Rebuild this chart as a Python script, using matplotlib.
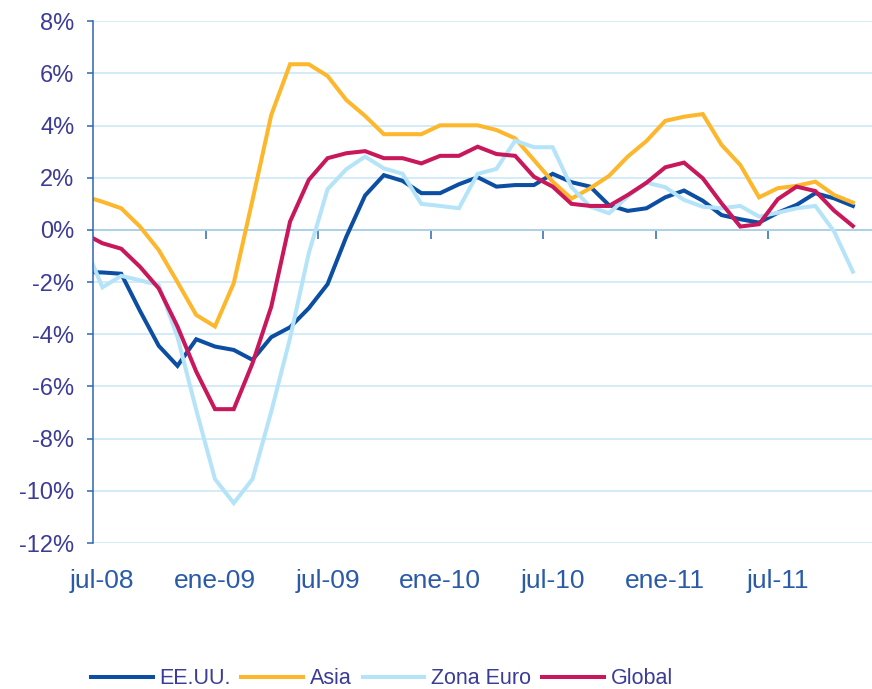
import numpy as np
import matplotlib
matplotlib.use("Agg")
import matplotlib.pyplot as plt
from matplotlib import font_manager
from matplotlib.ticker import FuncFormatter

# monthly series, jun-08 .. nov-11 (jun-08 only shows as the clipped start at the axis)
months = ["jun-08", "jul-08", "ago-08", "sep-08", "oct-08", "nov-08", "dic-08",
          "ene-09", "feb-09", "mar-09", "abr-09", "may-09", "jun-09",
          "jul-09", "ago-09", "sep-09", "oct-09", "nov-09", "dic-09",
          "ene-10", "feb-10", "mar-10", "abr-10", "may-10", "jun-10",
          "jul-10", "ago-10", "sep-10", "oct-10", "nov-10", "dic-10",
          "ene-11", "feb-11", "mar-11", "abr-11", "may-11", "jun-11",
          "jul-11", "ago-11", "sep-11", "oct-11", "nov-11"]

eeuu = [-1.61, -1.63, -1.68, -3.10, -4.44, -5.21, -4.19, -4.47, -4.60, -4.98,
        -4.11, -3.73, -3.00, -2.08, -0.26, 1.32, 2.10, 1.88, 1.41, 1.41,
        1.75, 2.02, 1.66, 1.72, 1.72, 2.15, 1.83, 1.66, 0.95, 0.73,
        0.83, 1.25, 1.51, 1.12, 0.57, 0.41, 0.28, 0.66, 0.96, 1.41,
        1.21, 0.92]
asia = [1.30, 1.08, 0.83, 0.13, -0.77, -2.00, -3.26, -3.70, -2.04, 1.15,
        4.41, 6.35, 6.35, 5.90, 4.98, 4.37, 3.67, 3.67, 3.67, 4.01,
        4.01, 4.01, 3.83, 3.51, 2.68, 1.85, 1.20, 1.60, 2.07, 2.81,
        3.41, 4.18, 4.34, 4.44, 3.26, 2.49, 1.25, 1.60, 1.69, 1.85,
        1.34, 1.05]
zona_euro = [-0.48, -2.20, -1.76, -1.93, -2.11, -4.10, -6.90, -9.55, -10.47, -9.55,
             -6.96, -4.15, -0.89, 1.56, 2.33, 2.81, 2.36, 2.15, 1.00, 0.92,
             0.83, 2.15, 2.34, 3.42, 3.17, 3.17, 1.64, 0.89, 0.64, 1.28,
             1.81, 1.64, 1.15, 0.89, 0.83, 0.92, 0.51, 0.66, 0.83, 0.92,
             -0.06, -1.60]
glob = [-0.13, -0.51, -0.72, -1.41, -2.24, -3.70, -5.43, -6.87, -6.87, -5.11,
        -2.94, 0.32, 1.92, 2.75, 2.94, 3.02, 2.75, 2.75, 2.55, 2.84,
        2.84, 3.19, 2.91, 2.84, 2.04, 1.66, 1.00, 0.92, 0.92, 1.34,
        1.81, 2.40, 2.58, 1.98, 1.02, 0.13, 0.22, 1.18, 1.66, 1.49,
        0.74, 0.15]

series = [("EE.UU.", eeuu, "#0b4ea2"),
          ("Asia", asia, "#fdb72c"),
          ("Zona Euro", zona_euro, "#b5e4f8"),
          ("Global", glob, "#c8175a")]

plt.rcParams["font.family"] = ["Liberation Sans", "DejaVu Sans"]
names = {f.name for f in font_manager.fontManager.ttflist}
leg_family = "Liberation Sans Narrow" if "Liberation Sans Narrow" in names else "Liberation Sans"
leg_size = 17 if leg_family.endswith("Narrow") else 15.5

axis_col = "#2f66b0"
grid_col = "#c6e7f5"

fig = plt.figure(figsize=(8.72, 6.89), dpi=100)
ax = fig.add_axes([0.1067, 0.2119, 0.8933, 0.7573])

x = np.arange(len(months))
for name, vals, col in series:
    ax.plot(x, vals, color=col, lw=2.9, label=name, solid_joinstyle="miter")

ax.set_xlim(0.5, 42.02)
ax.set_ylim(-12, 8)
ax.set_yticks(np.arange(-12, 9, 2))
ax.yaxis.set_major_formatter(FuncFormatter(lambda v, p: "%d%%" % v))
ax.grid(axis="y", color=grid_col, lw=1.1)
ax.set_axisbelow(True)

ax.set_xticks(x[1::6])
ax.set_xticklabels(months[1::6])
ax.tick_params(axis="x", length=0, pad=19, labelsize=19, labelcolor="#2a5aa8")
ax.tick_params(axis="y", length=4.5, width=1.1, color=axis_col, pad=9,
               labelsize=17, labelcolor="#3c3c96")

for s in ["top", "right", "bottom"]:
    ax.spines[s].set_visible(False)
ax.spines["left"].set_color(axis_col)
ax.spines["left"].set_linewidth(1.1)

# category axis drawn across at 0%, with tick marks every 6 months hanging down
zero = ax.secondary_xaxis(0.6)
zero.set_xticks(x[6:42:6] + 0.5)
zero.set_xticklabels([])
zero.tick_params(direction="in", length=6.5, width=1.1, color=axis_col)
for s in ["top", "bottom"]:
    zero.spines[s].set_color(axis_col)
    zero.spines[s].set_linewidth(1.1)

fig.legend(loc="center left", bbox_to_anchor=(0.104, 1 - 679 / 689), ncol=4,
           frameon=False, borderpad=0, borderaxespad=0,
           handlelength=44.6 / leg_size, handletextpad=5.0 / leg_size,
           columnspacing=7.5 / leg_size,
           prop={"family": leg_family, "size": leg_size}, labelcolor="#3b3b98")

fig.savefig("out.png", dpi=100)
